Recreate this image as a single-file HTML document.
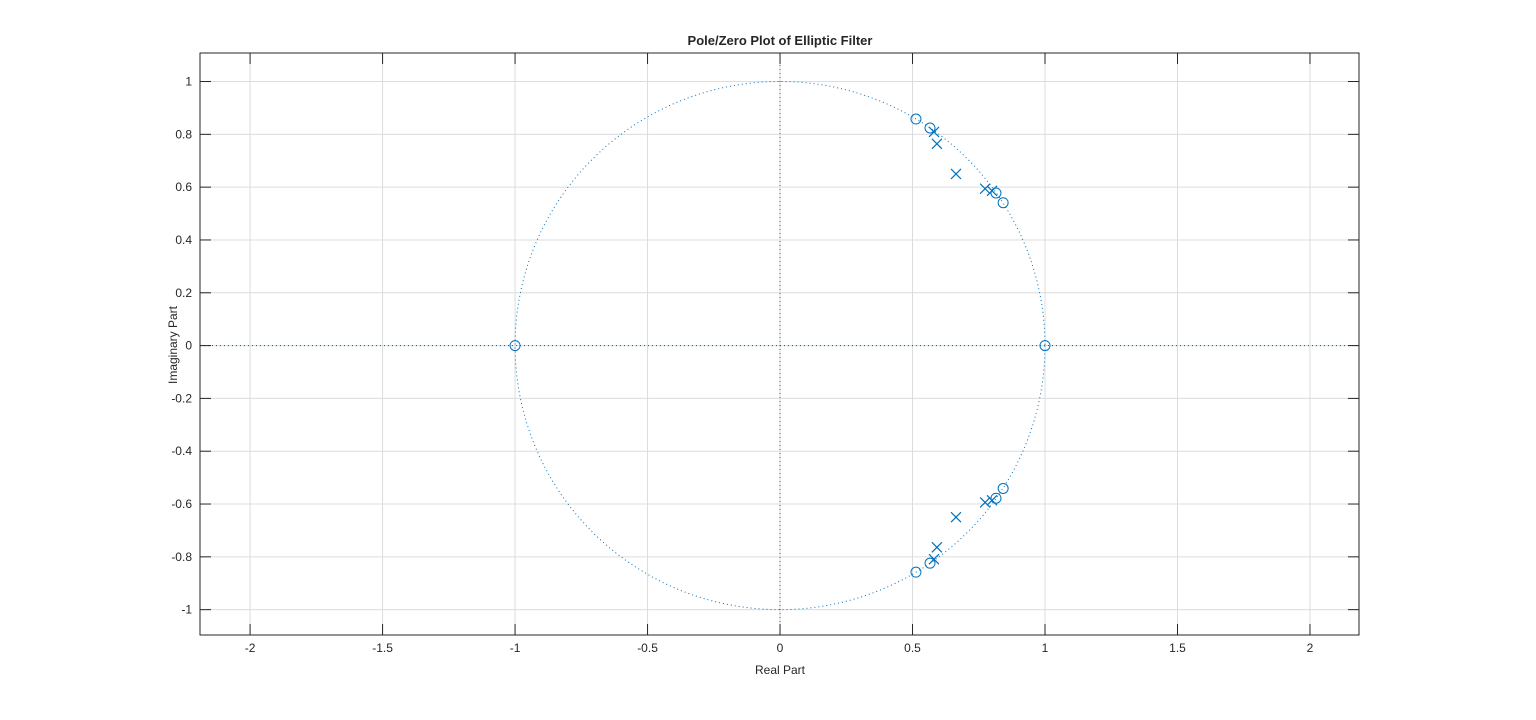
<!DOCTYPE html>
<html><head><meta charset="utf-8"><style>
body{margin:0;background:#fff;}
svg text{font-family:"Liberation Sans",Arial,sans-serif;}
</style></head><body>
<svg id="chart" width="1536" height="715" xmlns="http://www.w3.org/2000/svg">
<rect width="1536" height="715" fill="#fff"/>
<text x="780" y="45" text-anchor="middle" font-size="13" font-weight="bold" fill="#262626">Pole/Zero Plot of Elliptic Filter</text>
<text x="780" y="674" text-anchor="middle" font-size="12" fill="#262626">Real Part</text>
<text transform="translate(177,345) rotate(-90)" text-anchor="middle" font-size="12" fill="#262626">Imaginary Part</text>
<g id="grid"></g><g id="marks"></g><g id="axes"></g>
</svg>
<script>
const xTicks=[-2,-1.5,-1,-0.5,0,0.5,1,1.5,2];
const yTicks=[-1,-0.8,-0.6,-0.4,-0.2,0,0.2,0.4,0.6,0.8,1];
const zerosRe=[0.513,0.566,0.815,0.842,1,-1,0.513,0.566,0.815,0.842];
const zerosIm=[0.858,0.824,0.578,0.541,0,0,-0.858,-0.824,-0.578,-0.541];
const polesRe=[0.581,0.592,0.664,0.774,0.800,0.581,0.592,0.664,0.774,0.800];
const polesIm=[0.809,0.764,0.650,0.594,0.586,-0.809,-0.764,-0.650,-0.594,-0.586];
const L=200,R=1359,T=53,B=635,xmin=-2.189,xmax=2.185,ymin=-1.096,ymax=1.108;
const X=v=>L+(v-xmin)/(xmax-xmin)*(R-L);
const Y=v=>B-(v-ymin)/(ymax-ymin)*(B-T);
const NS='http://www.w3.org/2000/svg';
function mk(p,t,a){const e=document.createElementNS(NS,t);for(const k in a)e.setAttribute(k,a[k]);document.getElementById(p).appendChild(e);return e;}
xTicks.forEach(v=>{
 const g=mk('grid','line',{x1:X(v),x2:X(v),y1:T,y2:B,stroke:'#dcdcdc','stroke-width':1});
 
 
 mk('axes','line',{x1:X(v),x2:X(v),y1:B,y2:B-11,stroke:'#262626'});
 mk('axes','line',{x1:X(v),x2:X(v),y1:T,y2:T+11,stroke:'#262626'});
 const t=mk('axes','text',{x:X(v),y:B+17,'text-anchor':'middle','font-size':12,fill:'#262626'});
 t.textContent=v;
 
 
});
yTicks.forEach(v=>{
 const g=mk('grid','line',{x1:L,x2:R,y1:Y(v),y2:Y(v),stroke:'#dcdcdc','stroke-width':1});
 
 
 mk('axes','line',{x1:L,x2:L+11,y1:Y(v),y2:Y(v),stroke:'#262626'});
 mk('axes','line',{x1:R,x2:R-11,y1:Y(v),y2:Y(v),stroke:'#262626'});
 const t=mk('axes','text',{x:L-8,y:Y(v)+4,'text-anchor':'end','font-size':12,fill:'#262626'});
 t.textContent=v;
 
 
});
const box=mk('axes','rect',{x:L,y:T,width:R-L,height:B-T,fill:'none',stroke:'#262626'});


const c='#0072bd';
const uc=mk('marks','ellipse',{cx:X(0),cy:Y(0),rx:X(1)-X(0),ry:Y(0)-Y(1),fill:'none',stroke:c,'stroke-dasharray':'1 3'});


const va=mk('marks','line',{x1:X(0),x2:X(0),y1:T,y2:B,stroke:'#555','stroke-dasharray':'1 3'});


const ha=mk('marks','line',{x1:L,x2:R,y1:Y(0),y2:Y(0),stroke:c,'stroke-width':1.2,'stroke-dasharray':'1 3'});


zerosRe.forEach((r,i)=>{
 const z=mk('marks','circle',{cx:X(r),cy:Y(zerosIm[i]),r:5,fill:'none',stroke:c,'stroke-width':1});
 
 
});
polesRe.forEach((r,i)=>{
 const x=X(r),y=Y(polesIm[i]),s=5;
 const p=mk('marks','path',{d:`M${x-s},${y-s}L${x+s},${y+s}M${x-s},${y+s}L${x+s},${y-s}`,stroke:c,'stroke-width':1.2,fill:'none'});
 
 
});
</script>
</body></html>
